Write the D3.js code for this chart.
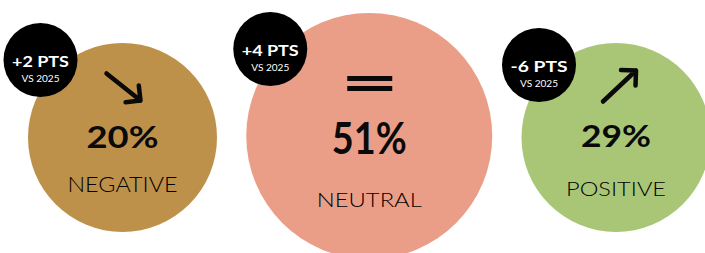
<!DOCTYPE html>
<html><head><meta charset="utf-8">
<script src="https://cdn.jsdelivr.net/npm/d3@7"></script>
<style>
html,body{margin:0;padding:0;background:#fff;overflow:hidden;}
svg{display:block;}
text{font-family:Lato, "Open Sans", sans-serif;}
</style></head>
<body>
<script>
// ---- data ----
const categories = ["NEGATIVE", "NEUTRAL", "POSITIVE"];
const shares = [20, 51, 29];
const changePts = [2, 4, -6];
const trends = ["down", "flat", "up"];
const compareLabel = "VS 2025";
const colors = ["#be914b", "#eb9e87", "#a9c676"];

// ---- layout ----
const W = 705, H = 253;
const layout = [
  {cy: 137.5, r: 94.5, badge: [-82, -77.5], pct: 10.5, lab: 54.5, pctSize: 31, labSize: 21, pctW: 72, labW: 110},
  {cy: 136,   r: 123,  badge: [-99, -87],   pct: 17.5, lab: 71,   pctSize: 43, labSize: 20, pctW: 75, labW: 105},
  {cy: 137.5, r: 94.5, badge: [-77, -72.5], pct: 9.5,  lab: 58.5, pctSize: 31, labSize: 20.5, pctW: 70, labW: 100}
];
const badgeR = 37;

const svg = d3.select("body").append("svg").attr("width", W).attr("height", H);
const x = d3.scalePoint().domain(categories).range([122.5, 616]);

const data = categories.map((c, i) => ({cat: c, share: shares[i], change: changePts[i], trend: trends[i], color: colors[i], L: layout[i]}));

const g = svg.selectAll("g.item").data(data).join("g").attr("class", "item")
  .attr("transform", d => `translate(${x(d.cat)},${d.L.cy})`);

g.append("circle").attr("r", d => d.L.r).attr("fill", d => d.color);

// percentage
g.append("text").attr("text-anchor", "middle").attr("y", d => d.L.pct)
  .attr("font-size", d => d.L.pctSize).attr("font-weight", 700).attr("fill", "#0a0a0a")
  .attr("textLength", d => d.L.pctW).attr("lengthAdjust", "spacingAndGlyphs")
  .text(d => d3.format("d")(d.share) + "%");

// label
g.append("text").attr("text-anchor", "middle").attr("y", d => d.L.lab)
  .attr("font-size", d => d.L.labSize).attr("font-weight", 300).attr("fill", "#000")
  .attr("textLength", d => d.L.labW).attr("lengthAdjust", "spacingAndGlyphs")
  .text(d => d.cat);

// trend symbols
g.each(function(d) {
  const s = d3.select(this);
  if (d.trend === "flat") {
    s.append("rect").attr("x", -22).attr("y", -60).attr("width", 45).attr("height", 5).attr("fill", "#0a0a0a");
    s.append("rect").attr("x", -22).attr("y", -50).attr("width", 45).attr("height", 5).attr("fill", "#0a0a0a");
  } else {
    const a = d.trend === "down" ? {x1: -16, y1: -64, x2: 18, y2: -37} : {x1: -13, y1: -36, x2: 20, y2: -67};
    const ang = Math.atan2(a.y2 - a.y1, a.x2 - a.x1);
    const hl = 15;
    const p1 = [a.x2 - hl * Math.cos(ang - Math.PI / 4), a.y2 - hl * Math.sin(ang - Math.PI / 4)];
    const p2 = [a.x2 - hl * Math.cos(ang + Math.PI / 4), a.y2 - hl * Math.sin(ang + Math.PI / 4)];
    const path = d3.path();
    path.moveTo(a.x1, a.y1); path.lineTo(a.x2, a.y2);
    path.moveTo(p1[0], p1[1]); path.lineTo(a.x2, a.y2); path.lineTo(p2[0], p2[1]);
    s.append("path").attr("d", path.toString()).attr("fill", "none").attr("stroke", "#0a0a0a")
      .attr("stroke-width", 4.5).attr("stroke-linecap", "round").attr("stroke-linejoin", "round");
  }
});

// badges
const b = g.append("g").attr("transform", d => `translate(${d.L.badge[0]},${d.L.badge[1]})`);
b.append("circle").attr("r", badgeR).attr("fill", "#000");
b.append("text").attr("text-anchor", "middle").attr("y", 6.5).attr("font-size", 15).attr("font-weight", 700)
  .attr("fill", "#fff").attr("textLength", 57).attr("lengthAdjust", "spacingAndGlyphs")
  .text(d => (d.change > 0 ? "+" : "-") + Math.abs(d.change) + " PTS");
b.append("text").attr("text-anchor", "middle").attr("y", 22).attr("font-size", 8.5).attr("font-weight", 400)
  .attr("fill", "#fff").attr("textLength", 38).attr("lengthAdjust", "spacingAndGlyphs")
  .text(compareLabel);
</script>
</body></html>
